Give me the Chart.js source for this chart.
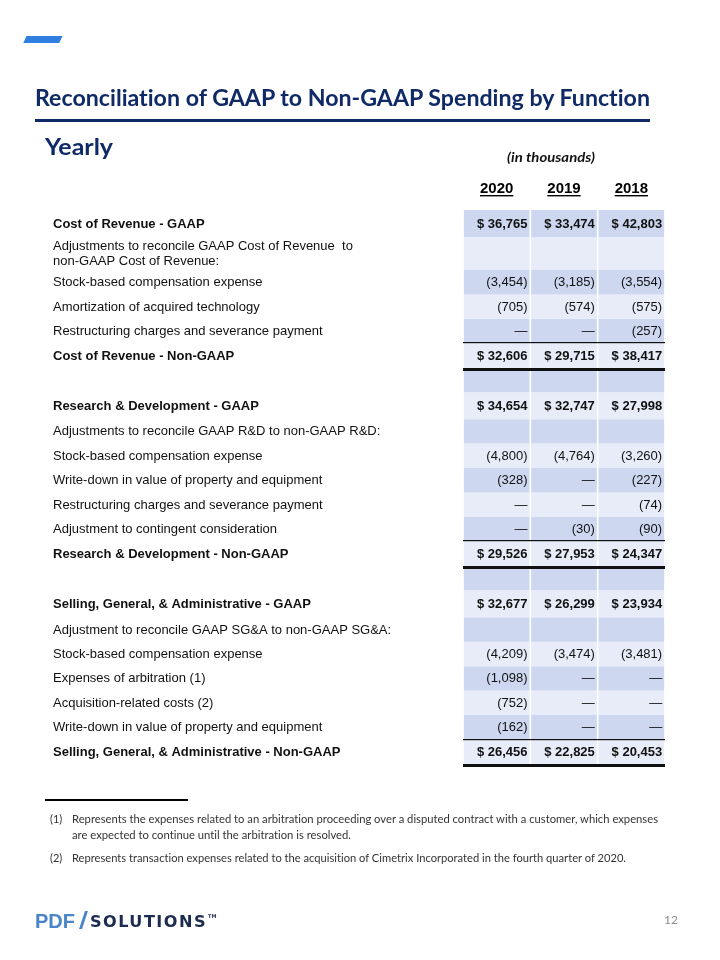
<!DOCTYPE html>
<html><head><meta charset="utf-8">
<script src="https://cdn.jsdelivr.net/npm/chart.js@4/dist/chart.umd.min.js"></script>
<style>
html,body{margin:0;padding:0;background:#fff;}
#page{position:relative;width:720px;height:960px;overflow:hidden;background:#fff;}
#c{position:absolute;left:0;top:0;}
.t{position:absolute;white-space:nowrap;transform-origin:0 0;line-height:1;font-variant-ligatures:none !important;font-feature-settings:"liga" 0, "clig" 0, "dlig" 0, "calt" 0 !important;}
</style></head><body><div id="page">
<canvas id="c" width="720" height="960"></canvas>
<div style="position:absolute;left:25px;top:36px;width:36px;height:6.5px;background:#2f7fe0;transform:skewX(-25deg);"></div>
<div class="t" data-w="615" style="left:35px;top:84px;font:700 22px Lato;color:#0f2a66;">Reconciliation of GAAP to Non-GAAP Spending by Function</div>
<div style="position:absolute;left:35px;top:119px;width:615px;height:3px;background:#0f2a66;"></div>
<div class="t" data-w="68" style="left:45px;top:131.5px;font:700 23px Lato;color:#0f2a66;">Yearly</div>
<div class="t" data-w="88" style="left:507px;top:149px;font:italic 700 13.5px Lato;color:#111;">(in thousands)</div>
<div style="position:absolute;left:45px;top:799px;width:143px;height:1.5px;background:#000;"></div>
<div class="t" style="left:50px;top:812px;font:400 11px Lato;color:#333;">(1)</div>
<div class="t" data-w="586" style="left:72px;top:812px;font:400 11px Lato;color:#333;">Represents the expenses related to an arbitration proceeding over a disputed contract with a customer, which expenses</div>
<div class="t" data-w="279" style="left:72px;top:828px;font:400 11px Lato;color:#333;">are expected to continue until the arbitration is resolved.</div>
<div class="t" style="left:50px;top:851px;font:400 11px Lato;color:#333;">(2)</div>
<div class="t" data-w="554" style="left:72px;top:851px;font:400 11px Lato;color:#333;">Represents transaction expenses related to the acquisition of Cimetrix Incorporated in the fourth quarter of 2020.</div>
<div class="t" data-w="40" style="left:35px;top:909px;font:700 21px 'Liberation Sans Narrow','Liberation Sans';color:#4a85c8;">PDF</div>
<div style="position:absolute;left:82px;top:911px;width:3px;height:18px;background:#4a85c8;transform:skewX(-18deg);"></div>
<div class="t" data-w="117" style="left:90px;top:912px;font:700 16.5px 'DejaVu Sans';letter-spacing:1.5px;color:#1c2b4f;">SOLUTIONS</div>
<div class="t" style="left:208px;top:913px;font:700 5px 'DejaVu Sans';color:#1c2b4f;">TM</div>
<div class="t" style="left:664px;top:911.5px;font:400 12px Lato;color:#8c8c8c;">12</div>
</div>
<script>
// ---- data ----
const years = ['2020', '2019', '2018'];
const rowLabels = [
  'Cost of Revenue - GAAP',
  'Adjustments to reconcile GAAP Cost of Revenue  to\nnon-GAAP Cost of Revenue:',
  'Stock-based compensation expense',
  'Amortization of acquired technology',
  'Restructuring charges and severance payment',
  'Cost of Revenue - Non-GAAP',
  '',
  'Research & Development - GAAP',
  'Adjustments to reconcile GAAP R&D to non-GAAP R&D:',
  'Stock-based compensation expense',
  'Write-down in value of property and equipment',
  'Restructuring charges and severance payment',
  'Adjustment to contingent consideration',
  'Research & Development - Non-GAAP',
  '',
  'Selling, General, & Administrative - GAAP',
  'Adjustment to reconcile GAAP SG&A to non-GAAP SG&A:',
  'Stock-based compensation expense',
  'Expenses of arbitration (1)',
  'Acquisition-related costs (2)',
  'Write-down in value of property and equipment',
  'Selling, General, & Administrative - Non-GAAP'
];
const rowKinds = ['gaap','note','item','item','item','total','blank',
                  'gaap','note','item','item','item','item','total','blank',
                  'gaap','note','item','item','item','item','total'];
const values2020 = [36765, null, -3454, -705, 0, 32606, null,
                    34654, null, -4800, -328, 0, 0, 29526, null,
                    32677, null, -4209, -1098, -752, -162, 26456];
const values2019 = [33474, null, -3185, -574, 0, 29715, null,
                    32747, null, -4764, 0, 0, -30, 27953, null,
                    26299, null, -3474, 0, 0, 0, 22825];
const values2018 = [42803, null, -3554, -575, -257, 38417, null,
                    27998, null, -3260, -227, -74, -90, 24347, null,
                    23934, null, -3481, 0, 0, 0, 20453];
const series = [values2020, values2019, values2018];

// ---- layout helpers (row weights from label shape) ----
const weights = rowLabels.map((l, i) => l.includes('\n') ? 1.35 : (rowKinds[i] === 'gaap' ? 1.1 : 1));
const rowTop = [], rowBottom = [];
let acc = 0;
weights.forEach(w => { rowTop.push(acc); acc += w; rowBottom.push(acc); });
const totalUnits = acc;

const DARK = '#cdd8f0', LIGHT = '#e7ecf8';
const FONT = "'Liberation Sans', Arial, sans-serif";

function fmt(v, kind) {
  if (v === null || v === undefined) return '';
  if (v === 0) return '\u2014';
  let s = Math.abs(v).toLocaleString('en-US');
  if (v < 0) s = '(' + s + ')';
  if (kind === 'gaap' || kind === 'total') s = '$ ' + s;
  return s;
}

const tablePlugin = {
  id: 'tablePlugin',
  afterDraw(chart) {
    const ctx = chart.ctx, y = chart.scales.y, x = chart.scales.x, ca = chart.chartArea;
    ctx.save();
    ctx.textBaseline = 'middle';
    rowLabels.forEach((lab, r) => {
      const kind = rowKinds[r];
      const y0 = y.getPixelForValue(rowTop[r]), y1 = y.getPixelForValue(rowBottom[r]);
      const cy = (y0 + y1) / 2;
      const bold = (kind === 'gaap' || kind === 'total');
      ctx.fillStyle = '#111';
      ctx.font = (bold ? '700 ' : '400 ') + '13px ' + FONT;
      ctx.textAlign = 'left';
      const lines = lab.split('\n');
      lines.forEach((ln, k) => {
        const ly = cy + 0.5 + (k - (lines.length - 1) / 2) * 14.5;
        ctx.fillText(ln, 53, ly);
      });
      ctx.textAlign = 'right';
      series.forEach((vals, c) => {
        const txt = fmt(vals[r], kind);
        if (!txt) return;
        const el = chart.getDatasetMeta(r).data[c];
        const right = el.x + el.width / 2 - 2;
        ctx.fillText(txt, right, cy + 0.5);
      });
      if (kind === 'total') {
        ctx.fillStyle = '#111';
        ctx.fillRect(ca.left, Math.round(y0) - 1, ca.right - ca.left, 1.2);
        ctx.fillRect(ca.left, Math.round(y1), ca.right - ca.left, 3);
      }
    });
    // header underlines
    ctx.font = '700 15px ' + FONT;
    ctx.fillStyle = '#000';
    years.forEach((yr, i) => {
      const px = x.getPixelForTick(i);
      const w = ctx.measureText(yr).width;
      ctx.fillRect(px - w / 2, ca.top - 15, w, 1.4);
    });
    ctx.restore();
  }
};

new Chart(document.getElementById('c'), {
  type: 'bar',
  data: {
    labels: years,
    datasets: rowLabels.map((lab, r) => ({
      label: lab || 'spacer',
      data: years.map(() => [rowTop[r], rowBottom[r]]),
      backgroundColor: r % 2 === 0 ? DARK : LIGHT,
      borderWidth: 0,
      grouped: false,
      barPercentage: 0.975,
      categoryPercentage: 1
    }))
  },
  options: {
    responsive: false,
    animation: false,
    devicePixelRatio: 1,
    layout: { padding: { left: 463, right: 55, top: 168, bottom: 196 } },
    plugins: { legend: { display: false }, tooltip: { enabled: false }, title: { display: false } },
    scales: {
      x: {
        type: 'category', position: 'top', offset: true,
        grid: { display: false, drawTicks: false }, border: { display: false },
        ticks: { padding: 12, color: '#000', font: { family: FONT, size: 15, weight: 'bold' } }
      },
      y: { type: 'linear', reverse: true, min: 0, max: totalUnits, display: false }
    }
  },
  plugins: [tablePlugin]
});

function fit() {
  document.querySelectorAll('.t[data-w]').forEach(el => {
    el.style.transform = 'none';
    const w = el.getBoundingClientRect().width;
    const target = parseFloat(el.dataset.w);
    if (w > 0) el.style.transform = 'scaleX(' + (target / w) + ')';
  });
}
fit();
if (document.fonts && document.fonts.ready) document.fonts.ready.then(fit);
</script>
</body></html>
